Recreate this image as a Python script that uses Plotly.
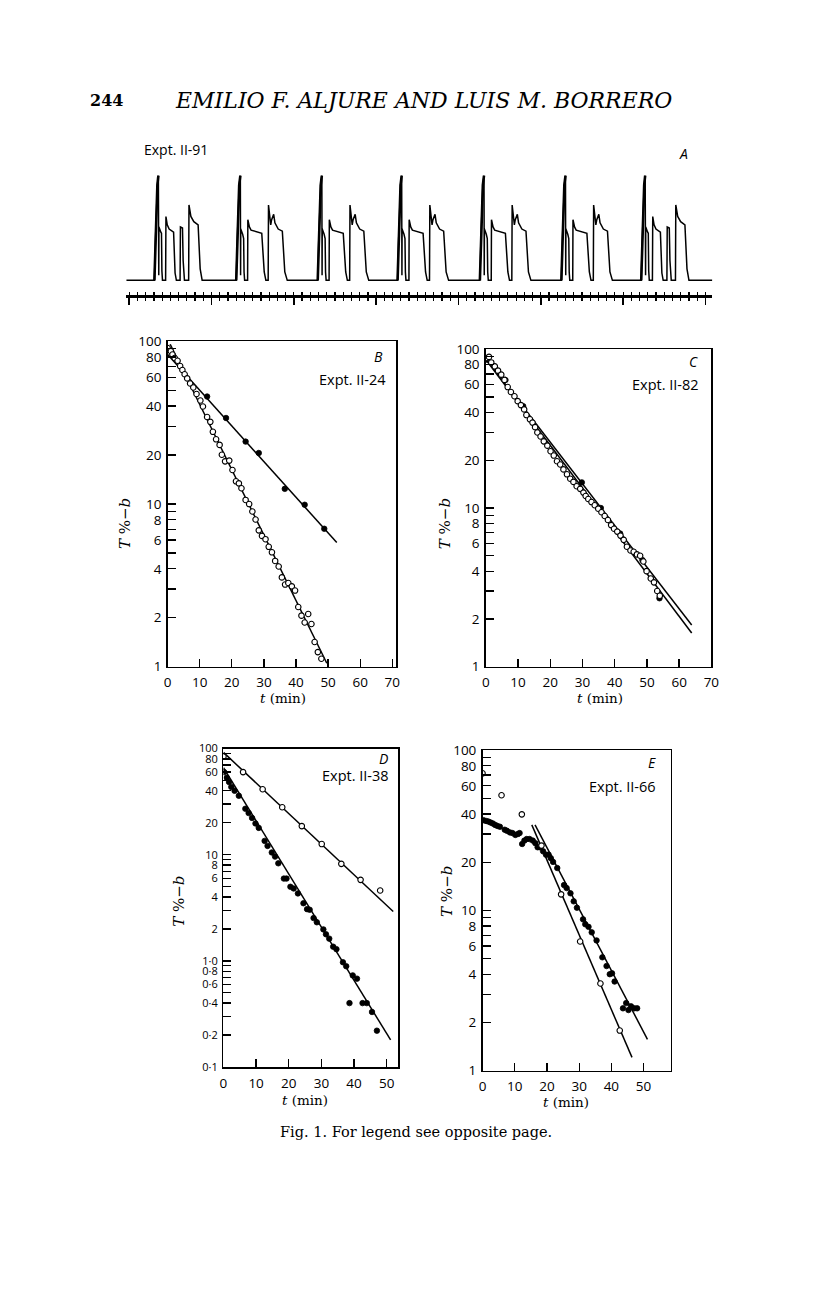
import plotly.graph_objects as go

PAGE_W, PAGE_H = 816, 1296
OFF = 8                      # default body margin of the html page
FW, FH = PAGE_W - 2 * OFF, PAGE_H - 2 * OFF

# ---------------- Panel A : recording (time in marker units, amplitude in % of tallest spike) ----
a_burst_onsets = [3.06, 13.0, 22.9, 32.6, 42.6, 52.5, 62.2]
a_burst_types = [1, 2, 2, 2, 2, 2, 1]
a_shape1_t = [0, 0.12, 0.24, 0.36, 0.48, 0.53, 0.55, 0.78, 0.86, 0.91, 0.98, 1.36, 1.40, 1.56, 1.79, 2.33,
              2.43, 2.51, 2.67, 3.12, 3.16, 3.41, 3.49, 3.65, 4.16, 4.20, 4.43, 4.79, 5.31, 5.42, 5.56, 5.80]
a_shape1_amp = [0, 37, 70, 91, 100, 5, 51, 46, 45, 9, 0, 0, 61, 53, 49, 46,
                23, 7, 0, 0, 51, 50, 19, 0, 0, 72, 61, 56, 53, 33, 11, 0]
a_shape2_t = [0, 0.12, 0.24, 0.36, 0.50, 0.53, 0.55, 0.78, 0.90, 0.95, 1.02, 1.38, 1.41, 1.60, 1.80, 3.10,
              3.25, 3.40, 3.60, 3.88, 3.92, 4.05, 4.19, 4.30, 4.55, 4.70, 5.10, 5.60, 5.75, 5.90, 6.20]
a_shape2_amp = [0, 37, 70, 91, 100, 5, 49, 44, 40, 8, 0, 0, 58, 51, 48, 45,
                25, 8, 0, 0, 72, 62, 53, 58, 63, 55, 49, 47, 25, 8, 0]
a_spike_points = 5           # first points of each template = the tall pen stroke
a_trace_span = [-0.36, 70.84]

# ---------------- Panel B : Expt. II-24 ----------------
b_open_t = [0.0, 1.0, 1.5, 2.2, 3.1, 3.9, 4.6, 5.3, 6.1, 7.0, 8.0, 9.0, 10.2, 11.0, 12.3, 13.3, 14.1, 15.1,
            16.2, 16.9, 17.9, 19.2, 20.2, 21.3, 22.2, 23.0, 24.3, 25.4, 26.4, 27.4, 28.4, 29.4, 30.5, 31.5,
            32.5, 33.5, 34.6, 35.6, 36.6, 37.6, 38.7, 39.7, 40.7, 41.7, 42.7, 43.8, 44.8, 45.8, 46.8, 47.9]
b_open_y = [91, 87, 83, 79, 76, 70.5, 66.7, 62.8, 59.2, 55.1, 52.1, 47.5, 43.3, 39.8, 34.3, 32.0, 27.8, 25.0,
            23.1, 20.1, 18.3, 18.5, 16.2, 13.8, 13.4, 12.5, 10.6, 10.0, 9.0, 8.04, 6.89, 6.37, 6.08, 5.46,
            5.05, 4.47, 4.13, 3.54, 3.20, 3.27, 3.12, 2.94, 2.33, 2.06, 1.87, 2.11, 1.83, 1.42, 1.23, 1.12]
b_fill_t = [12.3, 18.2, 24.3, 28.4, 36.5, 42.7, 48.8]
b_fill_y = [45.8, 33.8, 24.2, 20.6, 12.4, 9.9, 7.05]
b_fit_slow_t = [0, 52.7]
b_fit_slow_y = [83, 5.8]
b_fit_fast_t = [0.8, 49.6]
b_fit_fast_y = [96, 1.05]

# ---------------- Panel C : Expt. II-82 ----------------
c_open_t = [0.0, 1.0, 1.7, 2.8, 3.8, 4.8, 5.8, 6.8, 7.8, 8.9, 9.9, 10.9, 11.9, 12.6, 13.7, 14.5, 15.3, 16.0,
            17.0, 18.0, 19.1, 20.1, 21.1, 22.1, 23.1, 24.1, 25.2, 26.2, 27.2, 28.2, 29.3, 30.3, 31.0, 31.8,
            32.8, 33.8, 34.9, 35.9, 36.9, 37.9, 38.9, 39.8, 40.8, 41.8, 42.8, 43.8, 44.9, 45.9, 46.9, 47.9,
            48.9, 49.9, 51.2, 52.2, 53.2, 54.0]
c_open_y = [87.9, 89.5, 82.6, 78.0, 73.3, 69.2, 64.1, 57.8, 53.8, 50.6, 47.1, 44.5, 41.8, 38.5, 36.2, 34.5,
            32.3, 29.9, 28.2, 26.3, 24.7, 22.8, 21.4, 19.7, 18.8, 17.5, 16.3, 15.3, 14.6, 13.7, 13.2, 12.5,
            11.9, 11.4, 10.9, 10.4, 9.9, 9.4, 8.9, 8.4, 7.8, 7.4, 7.1, 6.7, 6.3, 5.7, 5.4, 5.3, 5.1, 5.0,
            4.6, 4.0, 3.6, 3.4, 3.0, 2.8]
c_fill_t = [0.0, 6.1, 11.6, 29.8, 35.7, 41.7, 48.6, 53.9]
c_fill_y = [86, 64, 43.8, 14.5, 10.0, 6.9, 4.7, 2.7]
c_fit1_t = [0, 63.9]
c_fit1_y = [87, 1.83]
c_fit2_t = [0, 63.9]
c_fit2_y = [86, 1.63]

# ---------------- Panel D : Expt. II-38 ----------------
d_open_t = [0, 6.0, 12.0, 18.0, 24.0, 30.1, 36.1, 42.0, 48.0]
d_open_y = [84, 60, 41.4, 28.0, 18.6, 12.6, 8.2, 5.8, 4.6]
d_fill_t = [0.2, 1.0, 1.7, 2.4, 3.4, 4.7, 6.7, 7.7, 8.75, 9.8, 10.8, 12.6, 13.5, 14.8, 15.8, 16.8, 18.5, 19.3,
            20.5, 21.5, 22.8, 24.5, 25.6, 26.4, 27.6, 28.6, 30.6, 31.4, 32.4, 33.6, 34.6, 36.6, 37.6, 39.6,
            40.9, 38.6, 42.6, 43.9, 45.5, 47.0]
d_fill_y = [60, 53.1, 48.4, 43.5, 40.0, 35.9, 27.1, 24.7, 22.2, 19.7, 17.9, 13.5, 12.1, 10.5, 9.6, 8.3, 5.96,
            5.96, 4.99, 4.81, 4.32, 3.49, 3.07, 3.03, 2.53, 2.31, 1.98, 1.78, 1.62, 1.36, 1.29, 0.97, 0.89,
            0.73, 0.68, 0.40, 0.40, 0.40, 0.33, 0.22]
d_fit_open_t = [0, 52]
d_fit_open_y = [92, 2.92]
d_fit_fill_t = [0, 51.2]
d_fit_fill_y = [66, 0.18]

# ---------------- Panel E : Expt. II-66 ----------------
e_open_t = [0, 5.9, 12.2, 18.3, 24.4, 30.3, 36.6, 42.6]
e_open_y = [71.8, 52.4, 39.8, 25.4, 12.6, 6.4, 3.5, 1.78]
e_fill_t = [0.3, 1.1, 1.8, 2.5, 3.2, 3.9, 4.6, 5.4, 6.9, 7.6, 8.5, 9.3, 10.2, 11.0, 11.5, 12.3, 13.0, 13.7,
            14.6, 15.6, 16.4, 17.1, 17.8, 18.8, 19.7, 20.5, 21.2, 21.9, 23.2, 25.3, 26.1, 27.3, 28.3, 29.3,
            31.2, 31.9, 32.9, 33.9, 35.4, 37.2, 38.5, 39.5, 40.2, 41.0, 43.6, 44.6, 45.3, 46.1, 47.1, 48.0]
e_fill_y = [36.6, 36.2, 35.9, 35.4, 34.9, 34.2, 33.7, 33.3, 31.9, 31.4, 30.7, 30.4, 29.6, 30.0, 30.4, 26.0,
            27.3, 27.9, 27.9, 27.3, 26.3, 24.8, 24.8, 23.4, 22.3, 22.3, 21.2, 20.1, 18.4, 14.4, 13.8, 12.8,
            11.4, 10.4, 8.8, 8.2, 7.9, 7.3, 6.5, 5.1, 4.5, 4.0, 4.05, 3.6, 2.45, 2.64, 2.39, 2.52, 2.45, 2.45]
e_fit_open_t = [15.3, 46.4]
e_fit_open_y = [34.2, 1.21]
e_fit_fill_t = [16.3, 51.2]
e_fit_fill_y = [34.2, 1.57]

# tick labels
x_ticks_70 = [0, 10, 20, 30, 40, 50, 60, 70]
x_ticks_50 = [0, 10, 20, 30, 40, 50]
y_vals_2dec = [1, 2, 3, 4, 5, 6, 7, 8, 9, 10, 20, 30, 40, 50, 60, 70, 80, 90, 100]
y_text_2dec = ["1", "2", "", "4", "", "6", "", "8", "", "10", "20", "", "40", "", "60", "", "80", "", "100"]
y_vals_3dec = [0.1, 0.2, 0.3, 0.4, 0.5, 0.6, 0.7, 0.8, 0.9] + y_vals_2dec
y_text_3dec = ["0·1", "0·2", "", "0·4", "", "0·6", "", "0·8", "", "1·0", "2", "", "4", "", "6", "", "8", "",
               "10", "20", "", "40", "", "60", "", "80", "", "100"]

SERIF = "DejaVu Serif"
SANS = "Open Sans"


def xdom(a, b):
    return [(a - OFF) / FW, (b - OFF) / FW]


def ydom(top, bottom):
    return [1 - (bottom - OFF) / FH, 1 - (top - OFF) / FH]


fig = go.Figure()

# ---- Panel A trace built from the burst template readings
ax, ay = [a_trace_span[0]], [0]
sx, sy = [], []
for onset, kind in zip(a_burst_onsets, a_burst_types):
    ts, am = (a_shape1_t, a_shape1_amp) if kind == 1 else (a_shape2_t, a_shape2_amp)
    for i, (t, a) in enumerate(zip(ts, am)):
        ax.append(onset + t)
        ay.append(a)
        if i < a_spike_points:
            sx.append(onset + t)
            sy.append(a)
    sx.append(None)
    sy.append(None)
ax.append(a_trace_span[1])
ay.append(0)
fig.add_trace(go.Scatter(x=ax, y=ay, mode="lines", line=dict(color="black", width=1.5),
                         xaxis="x", yaxis="y", hoverinfo="skip"))
fig.add_trace(go.Scatter(x=sx, y=sy, mode="lines", line=dict(color="black", width=2.6),
                         xaxis="x", yaxis="y", hoverinfo="skip", connectgaps=False))
fig.add_trace(go.Scatter(x=[a_trace_span[0]], y=[0], mode="markers", marker=dict(opacity=0),
                         xaxis="x6", yaxis="y", hoverinfo="skip"))


def add_panel(idx, lines, opens, fills):
    xa, ya = f"x{idx}", f"y{idx}"
    for lt, ly in lines:
        fig.add_trace(go.Scatter(x=lt, y=ly, mode="lines", line=dict(color="black", width=1.5),
                                 xaxis=xa, yaxis=ya, hoverinfo="skip"))
    for ft, fy in fills:
        fig.add_trace(go.Scatter(x=ft, y=fy, mode="markers",
                                 marker=dict(size=5.5, color="black", line=dict(color="black", width=0.8)),
                                 xaxis=xa, yaxis=ya, hoverinfo="skip"))
    for ot, oy in opens:
        fig.add_trace(go.Scatter(x=ot, y=oy, mode="markers",
                                 marker=dict(size=5.5, color="white", line=dict(color="black", width=1.1)),
                                 xaxis=xa, yaxis=ya, hoverinfo="skip"))


add_panel(2, [(b_fit_slow_t, b_fit_slow_y), (b_fit_fast_t, b_fit_fast_y)],
          [(b_open_t, b_open_y)], [(b_fill_t, b_fill_y)])
add_panel(3, [(c_fit1_t, c_fit1_y), (c_fit2_t, c_fit2_y)],
          [(c_open_t, c_open_y)], [(c_fill_t, c_fill_y)])
add_panel(4, [(d_fit_open_t, d_fit_open_y), (d_fit_fill_t, d_fit_fill_y)],
          [(d_open_t, d_open_y)], [(d_fill_t, d_fill_y)])
add_panel(5, [(e_fit_open_t, e_fit_open_y), (e_fit_fill_t, e_fit_fill_y)],
          [(e_open_t, e_open_y)], [(e_fill_t, e_fill_y)])


def xaxis_cfg(dom, rng, ticks, anchor):
    return dict(domain=xdom(*dom), range=rng, anchor=anchor, showline=True, linecolor="black", linewidth=1.5,
                mirror=True, ticks="inside", ticklen=8, tickwidth=1.3, tickcolor="black",
                tickvals=ticks, ticktext=[str(t) for t in ticks],
                tickfont=dict(family=SANS, size=13.5, color="black"),
                showgrid=False, zeroline=False, ticklabelstandoff=3, fixedrange=True)


def yaxis_cfg(dom, rng, vals, texts, anchor, fsize=13.5):
    return dict(domain=ydom(*dom), range=rng, type="log", anchor=anchor, showline=True, linecolor="black",
                linewidth=1.5, mirror=True, ticks="inside", ticklen=8, tickwidth=1.3, tickcolor="black",
                tickvals=vals, ticktext=texts, tickfont=dict(family=SANS, size=fsize, color="black"),
                showgrid=False, zeroline=False, ticklabelstandoff=2, fixedrange=True)


layout = dict(
    width=FW, height=FH, autosize=False, margin=dict(l=0, r=0, t=0, b=0, pad=0),
    paper_bgcolor="white", plot_bgcolor="rgba(0,0,0,0)", showlegend=False,
    xaxis=dict(domain=xdom(124, 719), range=[-0.36, 70.84], anchor="y", showline=True, linecolor="black",
               linewidth=3, ticks="outside", ticklen=7, tickwidth=1.5, tickcolor="black", dtick=10, tick0=0,
               minor=dict(dtick=1, ticks="outside", ticklen=3, tickwidth=1.2, tickcolor="black"),
               showticklabels=False, showgrid=False, zeroline=False, fixedrange=True),
    xaxis6=dict(domain=xdom(124, 719), range=[-0.36, 70.84], anchor="y", overlaying="x", showline=False,
                ticks="inside", ticklen=3, tickwidth=1.2, tickcolor="black", dtick=1, tick0=0,
                showticklabels=False, showgrid=False, zeroline=False, fixedrange=True),
    yaxis=dict(domain=ydom(150, 290), range=[-14.0, 117.8], visible=False, fixedrange=True),
    xaxis2=xaxis_cfg((166, 398), [0, 71.2], x_ticks_70, "y2"),
    yaxis2=yaxis_cfg((337, 667), [0, 2], y_vals_2dec, y_text_2dec, "x2"),
    xaxis3=xaxis_cfg((489, 718), [0, 70], x_ticks_70, "y3"),
    yaxis3=yaxis_cfg((345, 667), [0, 2], y_vals_2dec, y_text_2dec, "x3"),
    xaxis4=xaxis_cfg((222.7, 400), [0, 53.5], x_ticks_50, "y4"),
    yaxis4=yaxis_cfg((750, 1073), [-1, 2], y_vals_3dec, y_text_3dec, "x4", fsize=11),
    xaxis5=xaxis_cfg((485.7, 677), [0, 58.5], x_ticks_50, "y5"),
    yaxis5=yaxis_cfg((751.7, 1076.7), [0, 2], y_vals_2dec, y_text_2dec, "x5"),
)
fig.update_layout(**layout)


def ann(text, x, y, size, family, xanchor="center", yanchor="middle", angle=0, color="black"):
    fig.add_annotation(text=text, x=(x - OFF) / FW, y=1 - (y - OFF) / FH, xref="paper", yref="paper",
                       showarrow=False, xanchor=xanchor, yanchor=yanchor, textangle=angle,
                       font=dict(family=family, size=size, color=color))


# page header and caption
ann("<b>244</b>", 85, 93, 16, SERIF, xanchor="left")
ann("<i>EMILIO F. ALJURE AND LUIS M. BORRERO</i>", 171, 93, 22, SERIF, xanchor="left")
ann("Fig. 1. For legend see opposite page.", 418, 1139, 14.5, SERIF)

# panel A labels
ann("Expt. II-91", 140, 142, 14, SANS, xanchor="left")
ann("<i>A</i>", 690, 146, 14, SANS)

# panel letters / experiment labels
ann("<i>B</i>", 387, 352, 14, SANS, xanchor="right")
ann("Expt. II-24", 390, 376, 14.5, SANS, xanchor="right")
ann("<i>C</i>", 706, 357, 14, SANS, xanchor="right")
ann("Expt. II-82", 707, 381, 14.5, SANS, xanchor="right")
ann("<i>D</i>", 392, 760, 14, SANS, xanchor="right")
ann("Expt. II-38", 393, 777, 14.5, SANS, xanchor="right")
ann("<i>E</i>", 664, 764, 14, SANS, xanchor="right")
ann("Expt. II-66", 664, 788, 14.5, SANS, xanchor="right")

# axis titles
for (xt, yt) in [(283, 699), (605, 699), (305, 1106), (570, 1108)]:
    ann("<i>t</i> (min)", xt, yt, 13.5, SERIF)
for (xl, yl) in [(122, 522), (447, 522), (178, 905), (449, 895)]:
    ann("<i>T</i> %−<i>b</i>", xl, yl, 15, SERIF, angle=-90)

fig.write_html("out.html", config={"displayModeBar": False, "staticPlot": True})
